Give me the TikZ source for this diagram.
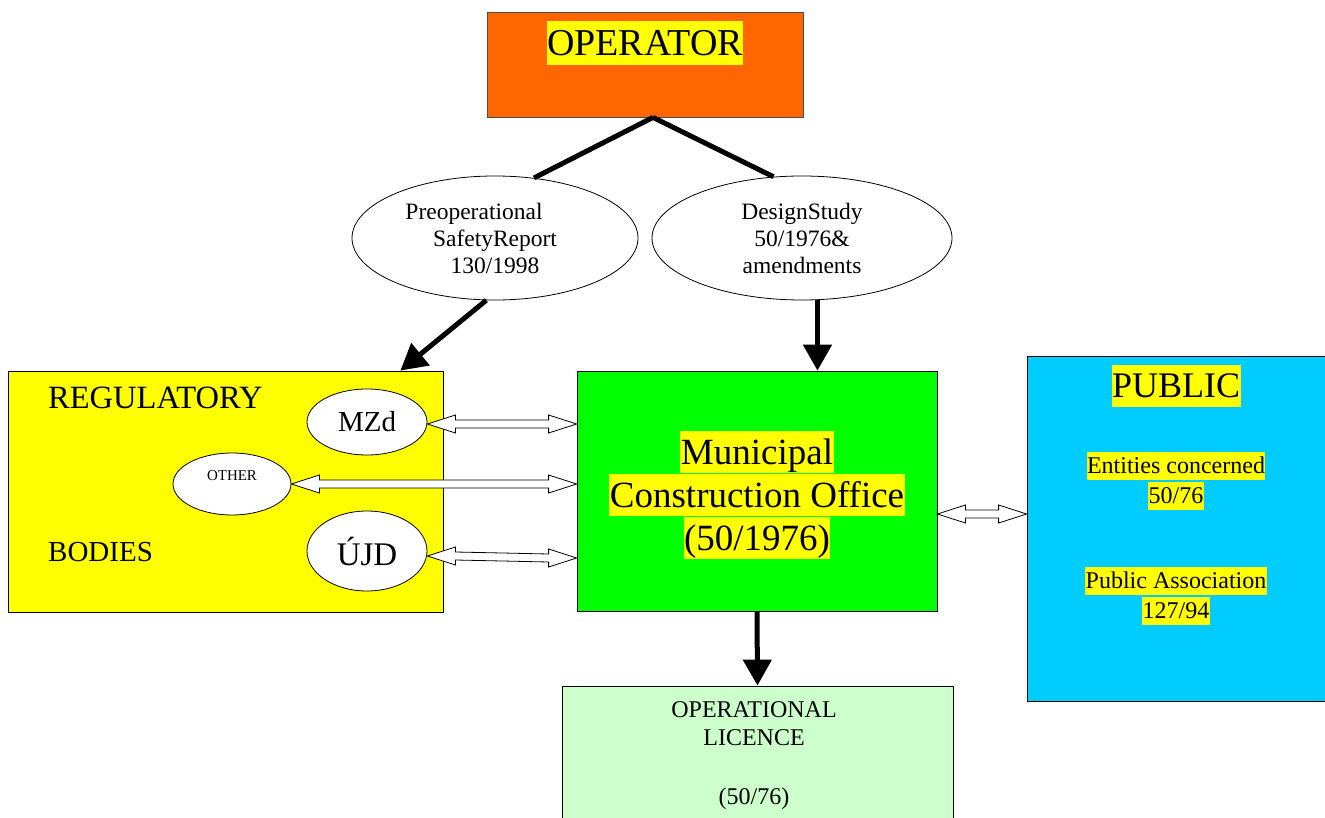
\documentclass[tikz,border=0pt]{standalone}
\usepackage{fontspec}
\setmainfont{Liberation Serif}
\usetikzlibrary{arrows.meta,calc,shapes.geometric}
\definecolor{oporange}{HTML}{FF6600}
\definecolor{regyellow}{HTML}{FFFF00}
\definecolor{mungreen}{HTML}{00FF00}
\definecolor{pubblue}{HTML}{00CCFF}
\definecolor{licgreen}{HTML}{CCFFCC}
\newcommand\yhl[1]{{\setlength{\fboxsep}{0.5pt}\colorbox{regyellow}{\rule[-0.23em]{0pt}{1.12em}#1}}}
\newcommand\fsz[2]{\fontsize{#1pt}{#2pt}\selectfont}
\newcommand\dblarr[2]{%
  \draw[fill=white, line width=0.8pt] (#1) -- ($(#1)+(28,-9)$) -- ($(#1)+(28,-4)$)
   -- ($(#2)+(-28,-4)$) -- ($(#2)+(-28,-9)$) -- (#2) -- ($(#2)+(-28,9)$)
   -- ($(#2)+(-28,4)$) -- ($(#1)+(28,4)$) -- ($(#1)+(28,9)$) -- cycle;}
\tikzset{
  box/.style={draw, line width=0.8pt, rectangle, inner sep=0pt},
  oval/.style={draw, line width=0.8pt, ellipse, fill=white, inner sep=0pt, align=center},
  txt/.style={inner sep=0pt, align=center},
  thickline/.style={line width=5pt},
  bigarrow/.style={line width=5pt, -{Triangle[width=28pt,length=26pt]}},
}
\begin{document}
\begin{tikzpicture}[x=1pt, y=-1pt]
\clip (0,0) rectangle (1325,818);
\fill[white] (0,0) rectangle (1325,818);
% boxes
\node[box, draw=black!70, fill=oporange, minimum width=316pt, minimum height=105pt] (op) at (645,64.5) {};
\node[txt, font=\fsz{38}{42}] (optxt) at (645,43) {\yhl{OPERATOR}};
\node[box, fill=regyellow, minimum width=435pt, minimum height=241pt] (reg) at (225.5,491.5) {};
\node[txt, anchor=west, font=\fsz{32.5}{36}] (regtxt) at (48,398) {REGULATORY};
\node[txt, anchor=west, font=\fsz{29}{36}] (bodtxt) at (48,552) {BODIES};
\node[box, fill=mungreen, minimum width=360pt, minimum height=240pt] (muni) at (757,491) {};
\node[txt, font=\fsz{37}{43}] (munitxt) at (757,495) {\yhl{Municipal}\\\yhl{Construction Office}\\\yhl{(50/1976)}};
\node[box, fill=pubblue, minimum width=298pt, minimum height=345pt] (pub) at (1176,528.5) {};
\node[txt, font=\fsz{36}{42}] (pubtxt) at (1176,386) {\yhl{PUBLIC}};
\node[txt, font=\fsz{24}{30}] (enttxt) at (1176,481) {\yhl{Entities concerned}\\\yhl{50/76}};
\node[txt, font=\fsz{24}{30}] (asstxt) at (1176,596) {\yhl{Public Association}\\\yhl{127/94}};
\node[box, fill=licgreen, minimum width=391pt, minimum height=144pt] (lic) at (757.5,758) {};
\node[txt, font=\fsz{24}{28}, anchor=north] (lictxt) at (754,701) {OPERATIONAL\\LICENCE\\[31pt](50/76)};
% ellipses
\node[oval, minimum width=286pt, minimum height=124pt, font=\fsz{23.5}{27}] (pre) at (495,238) {Preoperational\hspace*{42pt}\\SafetyReport\\130/1998};
\node[oval, minimum width=300pt, minimum height=124pt, font=\fsz{23.5}{27}] (des) at (802,238) {DesignStudy\\50/1976\&\hspace*{14pt}\\amendments};
\node[oval, minimum width=120pt, minimum height=66pt, font=\fsz{29}{32}] (mzd) at (367,422) {MZd};
\node[oval, minimum width=118pt, minimum height=62pt, font=\fsz{15}{18}] (other) at (232,484) {\raisebox{16pt}{OTHER}};
\node[oval, minimum width=120pt, minimum height=80pt, font=\fsz{33}{36}] (ujd) at (367,551) {ÚJD};
% operator lines
\coordinate (apex) at ($(op.south)+(8,0)$);
\draw[thickline] (apex) -- (pre.57);
\draw[thickline] (apex) -- (des.115);
% thick arrows
\coordinate (regin) at ($(reg.north east)+(-43,0)$);
\draw[bigarrow] (pre.262) -- (regin);
\draw[bigarrow] (des.284) -- (des.284 |- muni.north);
\draw[bigarrow] (muni.south) -- (lic.north);
% double arrows
\coordinate (m1) at ($(mzd.east)+(0,2)$);
\coordinate (m2) at (m1 -| muni.west);
\coordinate (o1) at (other.east);
\coordinate (o2) at (other.east -| muni.west);
\coordinate (u1) at ($(ujd.east)+(0,5)$);
\coordinate (u2) at ($(ujd.east -| muni.west)+(0,7)$);
\coordinate (p1) at ($(muni.east)+(0,23)$);
\coordinate (p2) at ($(muni.east -| pub.west)+(0,23)$);
\dblarr{m1}{m2}
\dblarr{o1}{o2}
\dblarr{u1}{u2}
\dblarr{p1}{p2}
\end{tikzpicture}
\end{document}
